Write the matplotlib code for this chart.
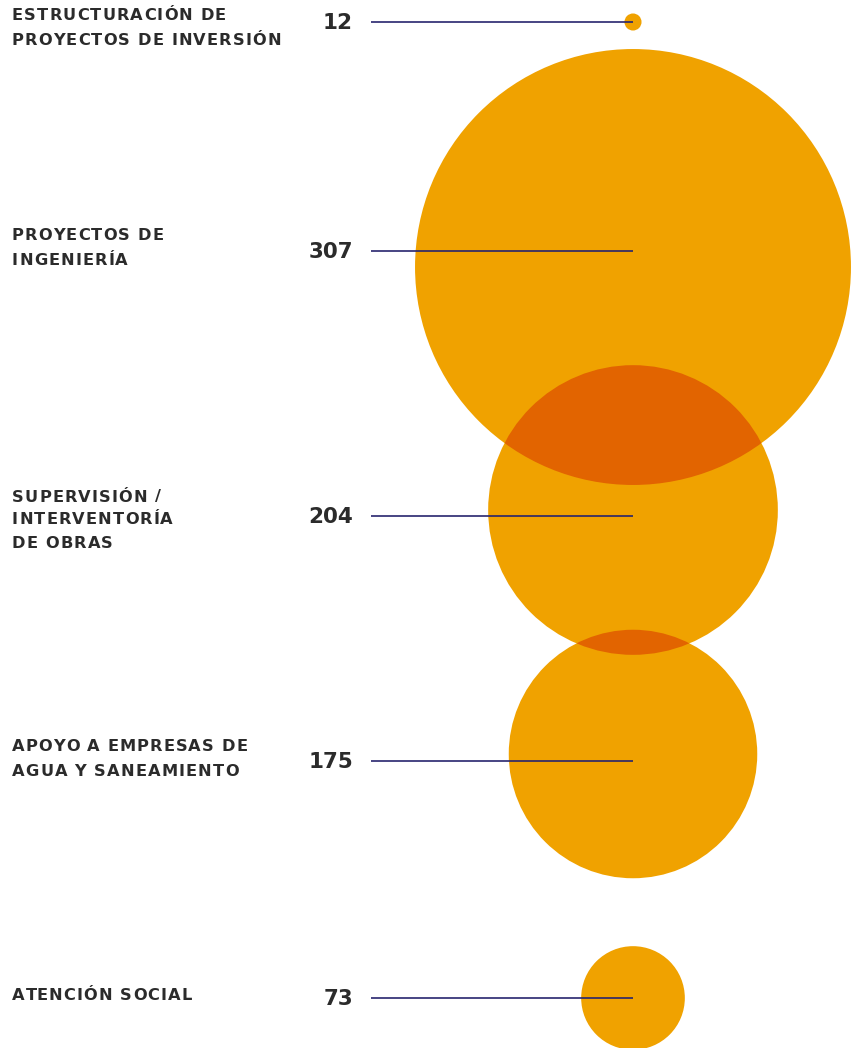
import matplotlib
matplotlib.use("Agg")
import matplotlib.pyplot as plt
from matplotlib.patches import Circle
from matplotlib.font_manager import FontProperties

# data
categories = [
    "ESTRUCTURACIÓN DE\nPROYECTOS DE INVERSIÓN",
    "PROYECTOS DE\nINGENIERÍA",
    "SUPERVISIÓN /\nINTERVENTORÍA\nDE OBRAS",
    "APOYO A EMPRESAS DE\nAGUA Y SANEAMIENTO",
    "ATENCIÓN SOCIAL",
]
values = [12, 307, 204, 175, 73]

# layout (pixel coords)
circle_y = [22, 267, 510, 754, 998]
line_y = [22, 251, 516, 761, 998]
label_y = [28, 248, 520, 759, 995]
line_gaps = [25, 25, 23, 25, 25]
cx = 633
scale = 0.71

orange = "#F0A200"
dark_orange = "#E26400"
navy = "#27256E"
txt = "#2B2B2B"

W, H = 856, 1048
fig = plt.figure(figsize=(W / 100, H / 100), dpi=100)
ax = fig.add_axes([0, 0, 1, 1])
ax.set_xlim(0, W)
ax.set_ylim(H, 0)
ax.axis("off")

circles = []
for v, y in zip(values, circle_y):
    c = Circle((cx, y), v * scale, facecolor=orange, edgecolor="none", zorder=1)
    ax.add_patch(c)
    circles.append(c)

# overlaps of neighbouring circles
for a, b in zip(circles[:-1], circles[1:]):
    ov = Circle(b.center, b.radius, facecolor=dark_orange, edgecolor="none", zorder=2)
    ax.add_patch(ov)
    ov.set_clip_path(a)

for y in line_y:
    ax.plot([371, cx], [y, y], color=navy, lw=1.2, zorder=3, solid_capstyle="butt")

fig.canvas.draw()
renderer = fig.canvas.get_renderer()
lab_font = FontProperties(family="DejaVu Sans", weight="bold", size=11.7)
num_font = FontProperties(family="DejaVu Sans", weight="bold", size=15.5)


def tracked(x, y, s, prop, track):
    # draw text char by char with extra letter spacing
    for i, ch in enumerate(s):
        if ch == " ":
            continue
        w = renderer.get_text_width_height_descent(s[:i], prop, ismath=False)[0] if i else 0
        ax.text(x + w + i * track, y, ch, fontproperties=prop,
                color=txt, va="center", ha="left")


for cat, y, gap in zip(categories, label_y, line_gaps):
    lines = cat.split("\n")
    y0 = y - (len(lines) - 1) * gap / 2
    for k, ln in enumerate(lines):
        tracked(12, y0 + k * gap, ln, lab_font, 1.1)

for v, y in zip(values, line_y):
    ax.text(353, y + 1, str(v), fontproperties=num_font, color=txt, ha="right", va="center")

fig.savefig("out.png", dpi=100)
